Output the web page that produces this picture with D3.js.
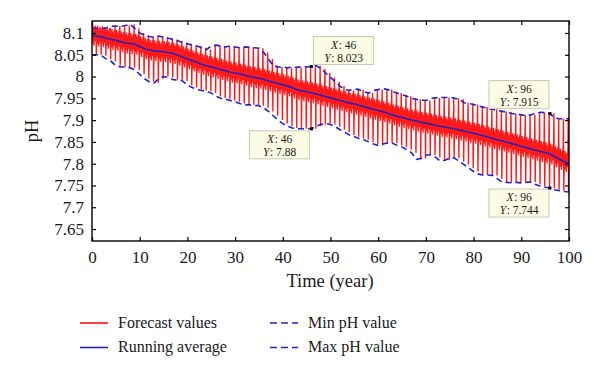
<!DOCTYPE html>
<html><head><meta charset="utf-8">
<script src="https://cdn.jsdelivr.net/npm/d3@7"></script>
<style>body{margin:0;background:#fff}svg{display:block}</style>
</head><body>
<svg id="c" width="600" height="379"></svg>
<script>
// ---- data ----
const xTicks = [0,10,20,30,40,50,60,70,80,90,100];
const yTicks = [7.65,7.7,7.75,7.8,7.85,7.9,7.95,8,8.05,8.1];
const yTickLabels = ["7.65","7.7","7.75","7.8","7.85","7.9","7.95","8","8.05","8.1"];
// yearly max pH envelope, years 0..100
const maxVals = [8.111,8.111,8.110,8.112,8.115,8.116,8.115,8.117,8.120,8.110,
8.100,8.095,8.092,8.090,8.093,8.090,8.088,8.085,8.082,8.078,
8.075,8.072,8.070,8.066,8.062,8.070,8.072,8.070,8.068,8.070,
8.068,8.066,8.068,8.067,8.066,8.065,8.055,8.040,8.025,8.022,
8.022,8.020,8.022,8.021,8.023,8.022,8.023,8.025,8.018,8.008,
7.998,7.988,7.978,7.970,7.968,7.972,7.970,7.965,7.962,7.968,
7.970,7.972,7.970,7.965,7.962,7.958,7.955,7.950,7.948,7.946,
7.945,7.950,7.951,7.952,7.952,7.952,7.950,7.948,7.940,7.938,
7.936,7.932,7.930,7.926,7.925,7.922,7.920,7.918,7.915,7.914,
7.912,7.910,7.912,7.916,7.918,7.917,7.915,7.905,7.903,7.903,7.903];
// yearly min pH envelope, years 0..100
const minVals = [8.050,8.050,8.048,8.040,8.035,8.025,8.022,8.022,8.020,8.015,
8.005,7.995,7.988,7.985,7.995,8.000,7.998,7.993,7.992,7.990,
7.980,7.975,7.970,7.968,7.966,7.962,7.955,7.950,7.948,7.945,
7.942,7.938,7.935,7.935,7.934,7.933,7.928,7.920,7.910,7.900,
7.892,7.886,7.882,7.880,7.880,7.880,7.880,7.886,7.890,7.892,
7.890,7.885,7.878,7.872,7.866,7.862,7.858,7.855,7.850,7.845,
7.842,7.845,7.848,7.847,7.842,7.838,7.832,7.825,7.810,7.812,
7.820,7.820,7.815,7.806,7.808,7.813,7.813,7.805,7.798,7.790,
7.782,7.776,7.774,7.774,7.773,7.765,7.758,7.757,7.756,7.757,
7.756,7.757,7.758,7.752,7.748,7.746,7.744,7.740,7.738,7.736,7.735];
// running average, years 0..100
const avgVals = [8.095,8.093,8.091,8.088,8.085,8.083,8.080,8.077,8.076,8.074,
8.069,8.064,8.061,8.059,8.058,8.057,8.055,8.053,8.049,8.045,
8.040,8.036,8.032,8.028,8.025,8.022,8.019,8.016,8.013,8.010,
8.008,8.006,8.003,8.000,7.998,7.996,7.993,7.990,7.987,7.984,
7.981,7.978,7.974,7.970,7.967,7.965,7.963,7.960,7.957,7.954,
7.951,7.948,7.945,7.942,7.939,7.937,7.934,7.931,7.928,7.925,
7.922,7.919,7.916,7.912,7.909,7.906,7.903,7.900,7.898,7.895,
7.893,7.891,7.888,7.886,7.884,7.882,7.880,7.877,7.875,7.872,
7.870,7.867,7.864,7.861,7.858,7.855,7.852,7.849,7.846,7.843,
7.840,7.837,7.834,7.831,7.828,7.825,7.822,7.816,7.810,7.805,7.800];
// within-year (monthly) deviations of the forecast from the running average, months 0..9
const monthDev = [0.012,-0.018,0.024,-0.010,0.018,-0.024,0.008,-0.014,0.022,-0.006];
// data tips
const tips = [
  {x:46, y:8.023, lx:"46", ly:"8.023", pos:"tr"},
  {x:46, y:7.88,  lx:"46", ly:"7.88",  pos:"bl"},
  {x:96, y:7.915, lx:"96", ly:"7.915", pos:"tl"},
  {x:96, y:7.744, lx:"96", ly:"7.744", pos:"bl2"}
];
const legendItems = [
  {label:"Forecast values", color:"#ff1010", dash:null, col:0, row:0},
  {label:"Running average", color:"#2222bb", dash:null, col:0, row:1},
  {label:"Min pH value", color:"#2222cc", dash:"7,4", col:1, row:0},
  {label:"Max pH value", color:"#2222cc", dash:"7,4", col:1, row:1}
];

// ---- build forecast series (12 samples per year) ----
const forecast = [];
for (let i = 0; i < 100; i++) {
  monthDev.forEach((d, m) => forecast.push([i + m/12, avgVals[i] + d]));
  forecast.push([i + 10/12, maxVals[i]]);
  forecast.push([i + 11/12, minVals[i]]);
}
forecast.push([100, avgVals[100]]);
const years = d3.range(0, 101);

// ---- layout ----
const L = 92, R = 569, T = 21, B = 241;
const x = d3.scaleLinear().domain([0,100]).range([L,R]);
const y = d3.scaleLinear().domain([7.6225, 8.1275]).range([B,T]);
const svg = d3.select("#c");
const font = "'Liberation Serif','Times New Roman',serif";

svg.append("defs").append("clipPath").attr("id","clip")
  .append("rect").attr("x",L).attr("y",T).attr("width",R-L).attr("height",B-T);
const plot = svg.append("g").attr("clip-path","url(#clip)");

plot.append("path").datum(forecast)
  .attr("d", d3.line().x(d=>x(d[0])).y(d=>y(d[1])))
  .attr("fill","none").attr("stroke","#ff0000").attr("stroke-width",1.4).attr("stroke-opacity",0.9);

plot.append("path").datum(years)
  .attr("d", d3.line().x(d=>x(d)).y(d=>y(avgVals[d])))
  .attr("fill","none").attr("stroke","#2222bb").attr("stroke-width",1.6);

[maxVals, minVals].forEach(arr => {
  plot.append("path").datum(years)
    .attr("d", d3.line().x(d=>x(d)).y(d=>y(arr[d])))
    .attr("fill","none").attr("stroke","#2222cc").attr("stroke-width",1.6)
    .attr("stroke-dasharray","6,4");
});

// ---- axes ----
const fmtY = d => yTickLabels[yTicks.indexOf(d)];
const gx = svg.append("g").attr("transform",`translate(0,${B})`)
  .call(d3.axisBottom(x).tickValues(xTicks).tickSize(-4).tickPadding(10));
const gxt = svg.append("g").attr("transform",`translate(0,${T})`)
  .call(d3.axisTop(x).tickValues(xTicks).tickSize(-4).tickFormat(""));
const gy = svg.append("g").attr("transform",`translate(${L},0)`)
  .call(d3.axisLeft(y).tickValues(yTicks).tickSize(-4).tickPadding(8).tickFormat(fmtY));
const gyr = svg.append("g").attr("transform",`translate(${R},0)`)
  .call(d3.axisRight(y).tickValues(yTicks).tickSize(-4).tickFormat(""));
[gx,gxt,gy,gyr].forEach(g => {
  g.select(".domain").remove();
  g.selectAll(".tick line").attr("stroke","#000").attr("stroke-width",1.2);
  g.selectAll("text").attr("font-family",font).attr("font-size",17).attr("fill","#1a1a1a");
});
svg.append("rect").attr("x",L).attr("y",T).attr("width",R-L).attr("height",B-T)
  .attr("fill","none").attr("stroke","#000").attr("stroke-width",1.4);

svg.append("text").attr("x",330).attr("y",287).attr("text-anchor","middle")
  .attr("font-family",font).attr("font-size",18.5).attr("fill","#1a1a1a").text("Time (year)");
svg.append("text").attr("transform","translate(38,131) rotate(-90)").attr("text-anchor","middle")
  .attr("font-family",font).attr("font-size",18.5).attr("fill","#1a1a1a").text("pH");

// ---- data tips ----
const bw = 60, bh = 28;
function tipLine(g, cx, baseY, letter, value) {
  const a = g.append("text").attr("y",baseY).attr("font-family",font).attr("font-size",11.5)
    .attr("font-style","italic").attr("fill","#1a1a1a").text(letter);
  const b = g.append("text").attr("y",baseY).attr("font-family",font).attr("font-size",11.5)
    .attr("fill","#1a1a1a").text(": " + value);
  const wa = a.node().getComputedTextLength(), wb = b.node().getComputedTextLength();
  const start = cx - (wa + wb) / 2;
  a.attr("x", start);
  b.attr("x", start + wa + 0.5);
}
tips.forEach(t => {
  const px = x(t.x), py = y(t.y);
  let bx, by;
  if (t.pos === "tr") { bx = px + 2; by = py - bh - 2; }
  else if (t.pos === "bl") { bx = px - bw - 2; by = py + 2; }
  else if (t.pos === "tl") { bx = px - bw - 1; by = py - bh - 5; }
  else { bx = px - bw - 1; by = py + 1; }
  const g = svg.append("g");
  g.append("rect").attr("x",bx).attr("y",by).attr("width",bw).attr("height",bh)
    .attr("fill","#fbfbe6").attr("stroke","#c9c9b5").attr("stroke-width",1);
  tipLine(g, bx + bw/2, by + 12, "X", t.lx);
  tipLine(g, bx + bw/2, by + 25, "Y", t.ly);
  svg.append("rect").attr("x",px-1.5).attr("y",py-1.5).attr("width",3).attr("height",3).attr("fill","#000");
});

// ---- legend ----
const lg = svg.append("g");
legendItems.forEach(it => {
  const lx = it.col === 0 ? 80 : 270;
  const ly = it.row === 0 ? 323 : 347.5;
  lg.append("line").attr("x1",lx).attr("x2",lx+28).attr("y1",ly).attr("y2",ly)
    .attr("stroke",it.color).attr("stroke-width",1.6)
    .attr("stroke-dasharray", it.dash);
  lg.append("text").attr("x",lx+38).attr("y",ly+4.5)
    .attr("font-family",font).attr("font-size",16).attr("fill","#1a1a1a").text(it.label);
});
</script>
</body></html>
